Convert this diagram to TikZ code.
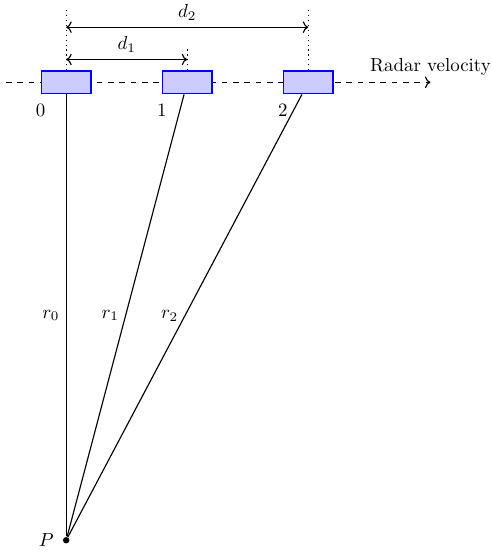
\documentclass[tikz,border=0pt]{standalone}
\usepackage{xcolor}
\usepackage{amsmath}
\usepackage{tikz}
\usetikzlibrary{arrows.meta,calc}
\definecolor{kutuIci}{HTML}{CCCCFF}
\definecolor{kutuKenar}{HTML}{0000FF}
\tikzset{anten/.style={draw=kutuKenar,fill=kutuIci,thick,minimum width=0.92cm,minimum height=0.42cm,inner sep=0pt}}

\begin{document}
\begin{tikzpicture}[semithick]
\useasboundingbox (-1.23,-0.33) rectangle (7.9,10.04);
% radar yolu
\draw[dashed,->] (-1.12,8.51)--(6.77,8.51) node[above] (hiz) {Radar velocity};
% anten konumlari
\foreach \i/\x in {0/0,1/2.25,2/4.5}
  \node[anten] (a\i) at (\x,8.51) {};
\foreach \i in {0,1,2}
  \node[below=1.5pt] (n\i) at (a\i.south west) {$\i$};
\node[circle,fill,inner sep=1.2pt,label={[label distance=1pt]left:$P$}] (P) at (0,0) {};
% menziller
\draw (P)--(a0) node[midway,left] (r0) {$r_0$};
\draw (P)--(a1) node[midway,left] (r1) {$r_1$};
\draw (P)--(a2) node[midway,left] (r2) {$r_2$};
% mesafeler
\draw[dotted] (a0.north)--++(0,1.17);
\draw[dotted] (a1.north)--++(0,0.39);
\draw[dotted] (a2.north)--++(0,1.17);
\draw[<->] ($(a0.north)+(0,0.2)$)--($(a1.north)+(0,0.2)$) node[midway,above] (d1) {$d_1$};
\draw[<->] ($(a0.north)+(0,0.8)$)--($(a2.north)+(0,0.8)$) node[midway,above] (d2) {$d_2$};
\end{tikzpicture}
\end{document}
